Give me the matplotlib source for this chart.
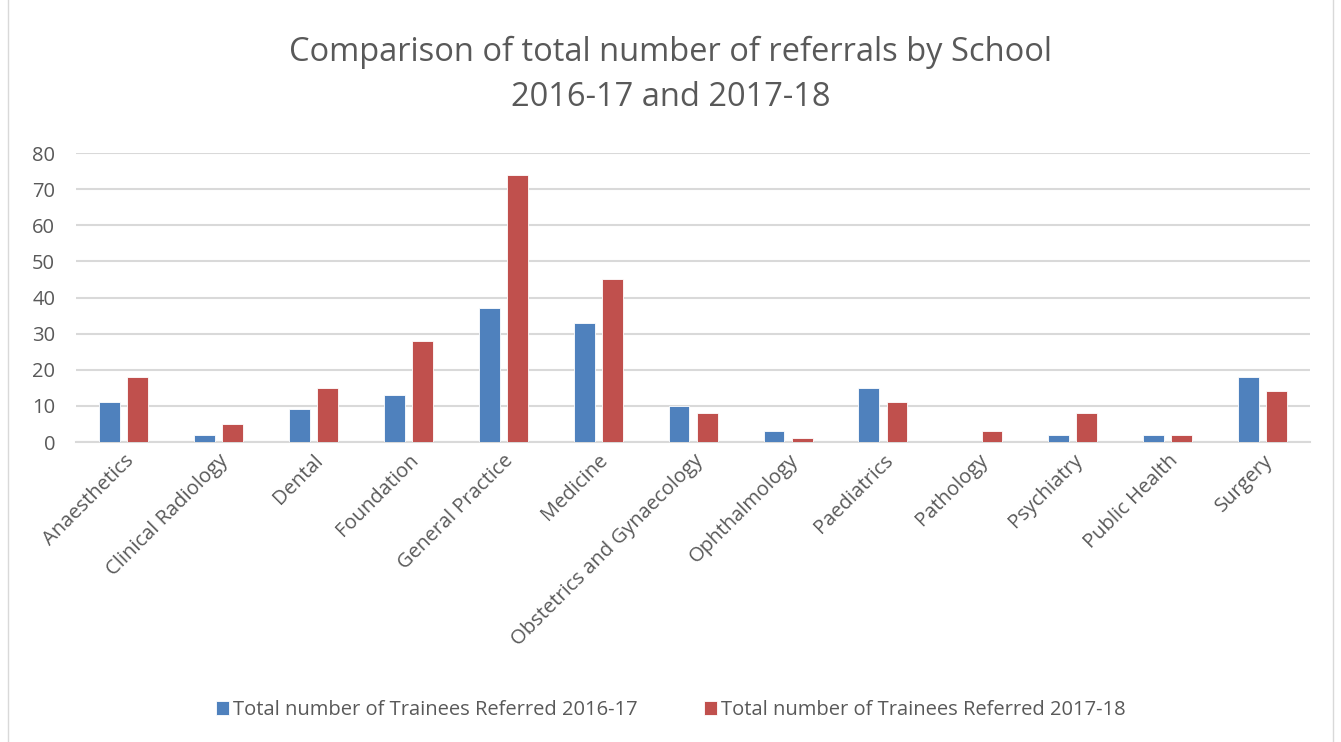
import matplotlib.pyplot as plt
import numpy as np

schools = ["Anaesthetics", "Clinical Radiology", "Dental", "Foundation",
           "General Practice", "Medicine", "Obstetrics and Gynaecology",
           "Ophthalmology", "Paediatrics", "Pathology", "Psychiatry",
           "Public Health", "Surgery"]
referred_1617 = [11, 2, 9, 13, 37, 33, 10, 3, 15, 0, 2, 2, 18]
referred_1718 = [18, 5, 15, 28, 74, 45, 8, 1, 11, 3, 8, 2, 14]
labels = ["Total number of Trainees Referred 2016-17",
          "Total number of Trainees Referred 2017-18"]
title_lines = ["Comparison of total number of referrals by School",
               "2016-17 and 2017-18"]

plt.rcParams['font.family'] = ['Open Sans', 'DejaVu Sans']
txt = '#595959'

fig = plt.figure(figsize=(13.41, 7.42), dpi=100)
ax = fig.add_axes([0.0567, 0.4043, 0.9203, 0.3895])

x = np.arange(len(schools))
w = 0.22
ax.bar(x - 0.148, referred_1617, w, color='#4F81BD', edgecolor='white', linewidth=0.6, label=labels[0], zorder=3)
ax.bar(x + 0.148, referred_1718, w, color='#C0504D', edgecolor='white', linewidth=0.6, label=labels[1], zorder=3)

ax.set_xlim(-0.5, len(schools) - 0.5)
ax.set_ylim(0, 80)
ax.set_yticks(range(0, 81, 10))
ax.yaxis.grid(True, color='#D9D9D9', linewidth=1.5, zorder=0)
for s in ['top', 'right', 'left']:
    ax.spines[s].set_visible(False)
ax.spines['bottom'].set_color('#D9D9D9')
ax.spines['bottom'].set_linewidth(1.5)
ax.tick_params(axis='both', length=0, colors=txt, labelsize=14.5)
ax.tick_params(axis='y', pad=15)
ax.tick_params(axis='x', pad=6)
ax.set_xticks(x)
ax.set_xticklabels(schools, rotation=45, ha='right', rotation_mode='anchor')

fig.text(0.5, 0.930, title_lines[0], ha='center', va='center', fontsize=23.5, color=txt)
fig.text(0.5, 0.869, title_lines[1], ha='center', va='center', fontsize=23.5, color=txt)

fig.legend(loc='center', bbox_to_anchor=(0.5, 0.043), ncol=2, frameon=False,
           fontsize=14.5, labelcolor=txt, handlelength=0.65, handleheight=0.65,
           handletextpad=0.2, columnspacing=3.3)

fig.add_artist(plt.Rectangle((0.006, -0.01), 0.988, 1.02, transform=fig.transFigure,
                             fill=False, edgecolor='#D9D9D9', linewidth=1))

fig.savefig('out.png', dpi=100)
